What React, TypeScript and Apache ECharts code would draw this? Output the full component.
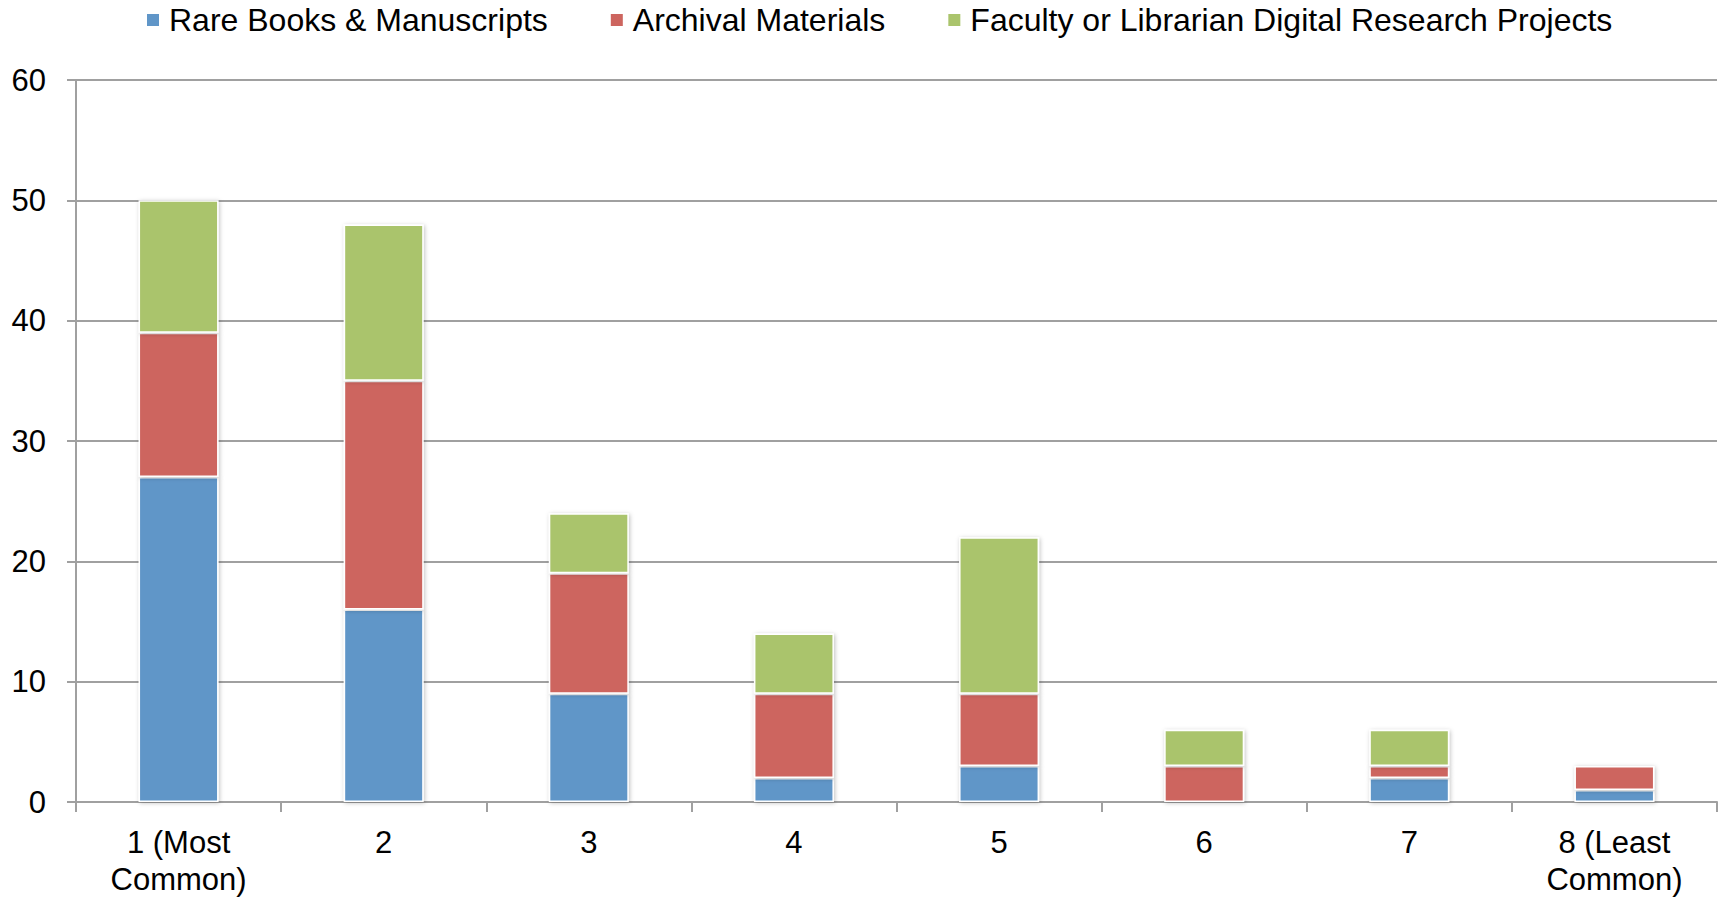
import React, { useEffect, useRef } from "react";
import * as echarts from "echarts";

const categories = ["1 (Most\nCommon)", "2", "3", "4", "5", "6", "7", "8 (Least\nCommon)"];
const rareBooks = [27, 16, 9, 2, 3, 0, 2, 1];
const archival = [12, 19, 10, 7, 6, 3, 1, 2];
const faculty = [11, 13, 5, 5, 13, 3, 3, 0];
const yTicks = { min: 0, max: 60, interval: 10 };

const FONT = "Liberation Sans, Arial, sans-serif";

export default function App() {
  const ref = useRef<HTMLDivElement>(null);
  useEffect(() => {
    if (!ref.current) return;
    const chart = echarts.init(ref.current, undefined, { renderer: "svg" });
    const barStyle = (color: string) => ({
      color,
      borderColor: "#ffffff",
      borderWidth: 1.5,
      shadowBlur: 4,
      shadowColor: "rgba(0,0,0,0.25)",
      shadowOffsetX: 1,
      shadowOffsetY: 1,
    });
    chart.setOption({
      animation: false,
      backgroundColor: "#ffffff",
      textStyle: { fontFamily: FONT },
      legend: {
        left: 145,
        top: 4,
        padding: 0,
        itemWidth: 14,
        itemHeight: 14,
        itemGap: 61,
        icon: "rect",
        textStyle: { fontSize: 32, color: "#000000", fontFamily: FONT, padding: [0, 0, 0, 4] },
        data: [
          "Rare Books & Manuscripts",
          "Archival Materials",
          "Faculty or Librarian Digital Research Projects",
        ],
      },
      grid: { left: 76, right: 4, top: 80, bottom: 98, containLabel: false },
      xAxis: {
        type: "category",
        data: categories,
        axisLine: { show: true, lineStyle: { color: "#a0a0a0", width: 2 } },
        axisTick: { show: true, length: 10, lineStyle: { color: "#a0a0a0", width: 2 } },
        axisLabel: { fontSize: 31, color: "#000000", fontFamily: FONT, margin: 22, lineHeight: 37, interval: 0 },
      },
      yAxis: {
        type: "value",
        min: yTicks.min,
        max: yTicks.max,
        interval: yTicks.interval,
        axisLine: { show: true, lineStyle: { color: "#a0a0a0", width: 2 } },
        axisTick: { show: true, length: 9, lineStyle: { color: "#a0a0a0", width: 2 } },
        axisLabel: { fontSize: 31, color: "#000000", fontFamily: FONT, margin: 30 },
        splitLine: { show: true, lineStyle: { color: "#a0a0a0", width: 2 } },
      },
      series: [
        {
          name: "Rare Books & Manuscripts",
          type: "bar",
          stack: "total",
          barWidth: 80,
          data: rareBooks,
          itemStyle: barStyle("#6096c8"),
        },
        {
          name: "Archival Materials",
          type: "bar",
          stack: "total",
          barWidth: 80,
          data: archival,
          itemStyle: barStyle("#cd655f"),
        },
        {
          name: "Faculty or Librarian Digital Research Projects",
          type: "bar",
          stack: "total",
          barWidth: 80,
          data: faculty,
          itemStyle: barStyle("#aac46c"),
        },
      ],
    });
    return () => chart.dispose();
  }, []);
  return (
    <div
      ref={ref}
      style={{ position: "fixed", left: 0, top: 0, width: 1721, height: 900 }}
    />
  );
}
